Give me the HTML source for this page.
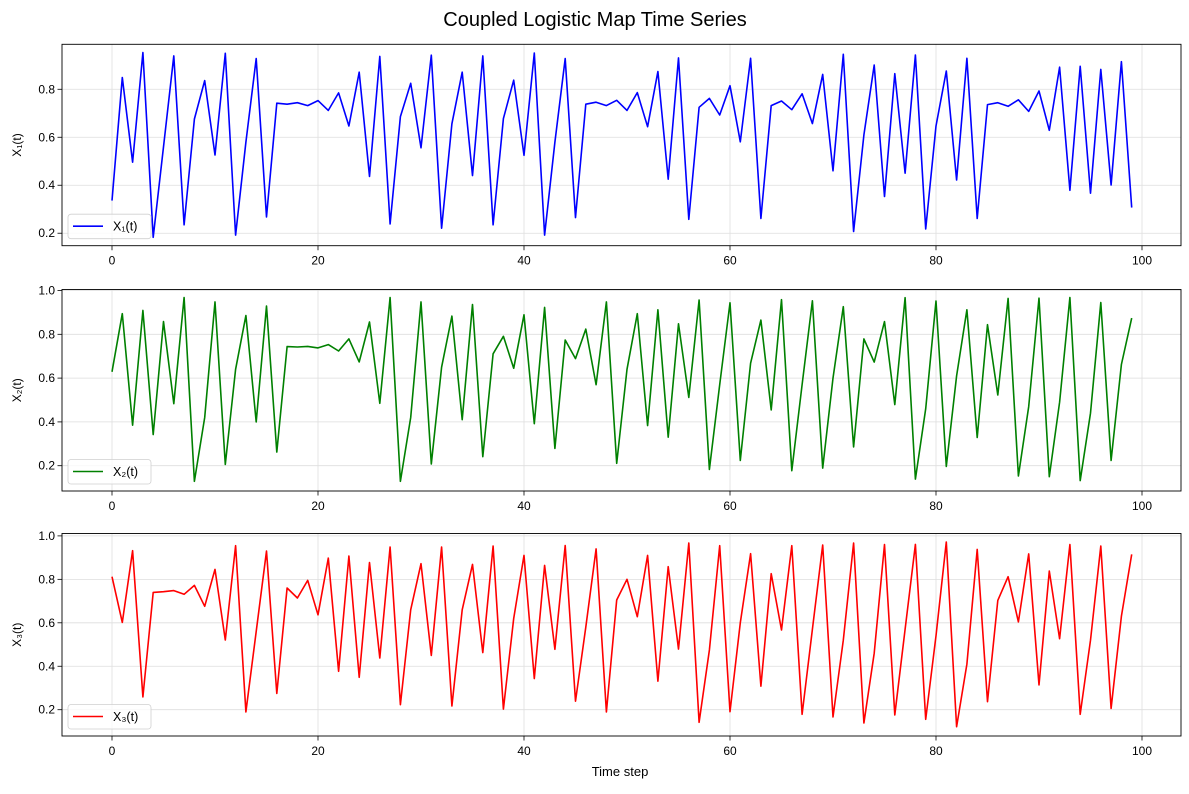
<!DOCTYPE html>
<html><head><meta charset="utf-8"><style>
body{margin:0;background:#fff;}
svg text{font-family:"Liberation Sans","DejaVu Sans",sans-serif;fill:#000;}
</style></head><body>
<svg id="chart" width="1189" height="789" viewBox="0 0 1189 789" xmlns="http://www.w3.org/2000/svg">
<rect width="1189" height="789" fill="#fff"/>
<text x="595" y="26" font-size="20" text-anchor="middle">Coupled Logistic Map Time Series</text>
<text x="620" y="776" font-size="13" text-anchor="middle">Time step</text>
</svg>
<script>
const timeSteps = Array.from({length:100},(_,i)=>i);
const x1Values = [0.336,0.849,0.496,0.953,0.183,0.56,0.939,0.235,0.676,0.836,0.526,0.95,0.192,0.58,0.928,0.268,0.742,0.738,0.744,0.732,0.753,0.712,0.785,0.647,0.871,0.437,0.937,0.239,0.686,0.825,0.556,0.942,0.221,0.656,0.871,0.44,0.939,0.235,0.678,0.838,0.525,0.951,0.192,0.58,0.928,0.265,0.738,0.746,0.732,0.754,0.712,0.786,0.644,0.874,0.425,0.931,0.258,0.725,0.762,0.693,0.815,0.581,0.929,0.262,0.732,0.751,0.715,0.781,0.657,0.862,0.46,0.946,0.207,0.61,0.901,0.353,0.865,0.45,0.943,0.218,0.647,0.876,0.422,0.929,0.262,0.736,0.744,0.729,0.756,0.708,0.793,0.629,0.892,0.379,0.896,0.367,0.883,0.401,0.915,0.307];
const x2Values = [0.629,0.894,0.385,0.909,0.342,0.858,0.483,0.968,0.129,0.42,0.948,0.206,0.64,0.886,0.4,0.929,0.262,0.744,0.742,0.745,0.738,0.753,0.724,0.779,0.674,0.856,0.485,0.968,0.129,0.42,0.948,0.208,0.65,0.883,0.41,0.936,0.241,0.711,0.791,0.645,0.889,0.392,0.923,0.279,0.774,0.689,0.824,0.57,0.948,0.211,0.64,0.894,0.383,0.912,0.33,0.848,0.512,0.956,0.183,0.57,0.944,0.224,0.668,0.865,0.455,0.958,0.177,0.57,0.953,0.189,0.6,0.926,0.286,0.779,0.673,0.858,0.479,0.967,0.139,0.46,0.952,0.197,0.61,0.912,0.329,0.844,0.523,0.964,0.153,0.47,0.965,0.15,0.49,0.968,0.132,0.44,0.945,0.224,0.662,0.874];
const x3Values = [0.812,0.602,0.932,0.259,0.74,0.743,0.748,0.731,0.772,0.676,0.846,0.521,0.955,0.19,0.56,0.93,0.275,0.76,0.714,0.795,0.637,0.898,0.377,0.907,0.349,0.877,0.438,0.949,0.223,0.66,0.872,0.45,0.949,0.217,0.66,0.869,0.463,0.953,0.203,0.62,0.91,0.343,0.864,0.478,0.956,0.239,0.58,0.94,0.19,0.705,0.8,0.628,0.91,0.331,0.858,0.479,0.967,0.142,0.475,0.955,0.191,0.6,0.918,0.308,0.826,0.567,0.955,0.179,0.57,0.958,0.167,0.52,0.967,0.139,0.46,0.96,0.176,0.57,0.961,0.156,0.54,0.972,0.122,0.41,0.938,0.237,0.703,0.812,0.604,0.917,0.314,0.838,0.527,0.96,0.179,0.52,0.953,0.206,0.63,0.915];
const xTickLabels = [0,20,40,60,80,100];
const yTicks1 = [0.2,0.4,0.6,0.8];
const yTicks23 = [0.2,0.4,0.6,0.8,1.0];

const svg = document.getElementById('chart');
const NS = 'http://www.w3.org/2000/svg';
function mk(tag, attrs){const e=document.createElementNS(NS,tag);for(const k in attrs)e.setAttribute(k,attrs[k]);return e;}
const L=62,R=1181;
const xScale = t => 112 + (t-0)*(1142-112)/100;

function panel(id, top, bottom, yMin, yMax, values, color, ticks, label, sub){
  const y = v => bottom - (v-yMin)/(yMax-yMin)*(bottom-top);
  const g = mk('g',{});
  
  
  svg.appendChild(g);
  xTickLabels.forEach(t=>{
    const gl = mk('line',{x1:xScale(t),x2:xScale(t),y1:top,y2:bottom,stroke:'#dedede','stroke-width':0.8});
    
    
    g.appendChild(gl);
    const tk = mk('line',{x1:xScale(t),x2:xScale(t),y1:bottom,y2:bottom+4.5,stroke:'#000','stroke-width':0.8});
    
    
    g.appendChild(tk);
    const tx = mk('text',{x:xScale(t),y:bottom+19,'font-size':12,'text-anchor':'middle'});
    tx.textContent=t;
    
    
    g.appendChild(tx);
  });
  ticks.forEach(v=>{
    const gl = mk('line',{x1:L,x2:R,y1:y(v),y2:y(v),stroke:'#dedede','stroke-width':0.8});
    
    
    g.appendChild(gl);
    const tk = mk('line',{x1:L-4.5,x2:L,y1:y(v),y2:y(v),stroke:'#000','stroke-width':0.8});
    
    
    g.appendChild(tk);
    const tx = mk('text',{x:L-7,y:y(v)+4,'font-size':12,'text-anchor':'end'});
    tx.textContent=v.toFixed(1);
    
    
    g.appendChild(tx);
  });
  const pts = values.map((v,i)=>xScale(timeSteps[i]).toFixed(1)+','+y(v).toFixed(1)).join(' ');
  const line = mk('polyline',{points:pts,fill:'none',stroke:color,'stroke-width':1.6,'stroke-linejoin':'round'});
  
  
  g.appendChild(line);
  const frame = mk('rect',{x:L,y:top,width:R-L,height:bottom-top,fill:'none',stroke:'#000','stroke-width':0.9});
  
  
  g.appendChild(frame);
  const yl = mk('text',{x:0,y:0,'font-size':12,'text-anchor':'middle',transform:`translate(21,${(top+bottom)/2}) rotate(-90)`});
  yl.textContent = 'X'+sub+'(t)';
  
  
  g.appendChild(yl);
  const lg = mk('g',{});
  
  
  g.appendChild(lg);
  const lb = mk('rect',{x:68,y:bottom-31.5,width:83,height:24.5,rx:3,fill:'#fff','fill-opacity':0.8,stroke:'#d0d0d0','stroke-width':0.8});
  lg.appendChild(lb);
  lg.appendChild(mk('line',{x1:73,x2:103,y1:bottom-19.5,y2:bottom-19.5,stroke:color,'stroke-width':1.6}));
  const lt = mk('text',{x:113,y:bottom-15,'font-size':12.5});
  lt.textContent = 'X'+sub+'(t)';
  
  
  lg.appendChild(lt);
}
panel('x1', 44.3, 245.7, 0.148, 0.9875, x1Values, '#0000ff', yTicks1, 'X1', '\u2081');
panel('x2', 289.5, 491, 0.0845, 1.0046, x2Values, '#008000', yTicks23, 'X2', '\u2082');
panel('x3', 533.5, 736, 0.079, 1.011, x3Values, '#ff0000', yTicks23, 'X3', '\u2083');
</script>
</body></html>
